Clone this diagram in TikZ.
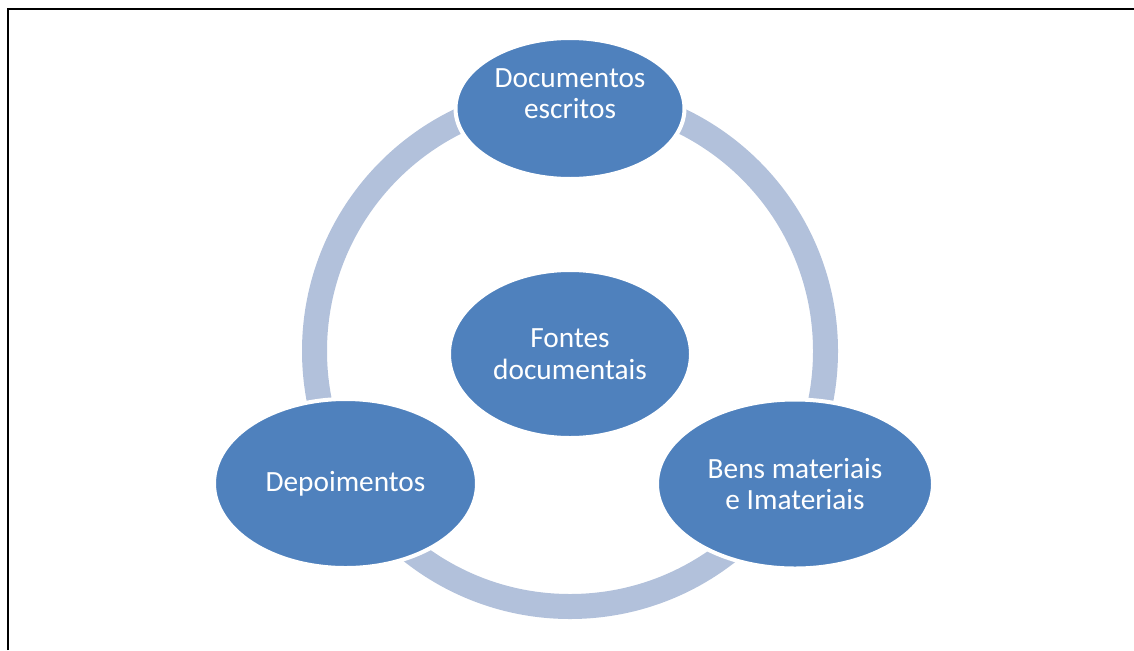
\documentclass[tikz,border=0pt]{standalone}
\usepackage{fontspec}
\setmainfont{Carlito}
\usepackage{xcolor}
\usepackage{tikz}
\usetikzlibrary{shapes.geometric}
\definecolor{bolhaazul}{RGB}{79, 129, 189}
\definecolor{anelazul}{RGB}{178, 193, 219}

\begin{document}
\begin{tikzpicture}[x=0.75pt, y=-0.75pt,
    texto/.style={text=white, align=center, font=\fontsize{22}{23.6}\selectfont},
    bolha/.style={ellipse, fill=bolhaazul, draw=white, line width=3pt, inner sep=0pt, outer sep=0pt, texto}]
    \useasboundingbox (0,0) rectangle (1134,650);
    \draw[line width=1.5pt] (7.5,650) -- (7.5,8.5) -- (1134,8.5);

    % anel
    \coordinate (centro) at (570,351);
    \draw[anelazul, line width=18.75pt] (centro) circle (255.5);

    \node[bolha, minimum width=171.75pt, minimum height=105.75pt] (escritos) at (570,108.5) {};
    \node[texto, yshift=11pt] (escritostexto) at (escritos) {Documentos\\escritos};
    \node[bolha, minimum width=181.5pt, minimum height=126pt] (fontes) at (570,354) {Fontes\\documentais};
    \node[bolha, minimum width=197.25pt, minimum height=126.75pt] (depoimentos) at (345.5,483.5) {Depoimentos};
    \node[bolha, minimum width=207pt, minimum height=126.75pt] (bens) at (795,484) {Bens materiais\\e Imateriais};
\end{tikzpicture}
\end{document}
